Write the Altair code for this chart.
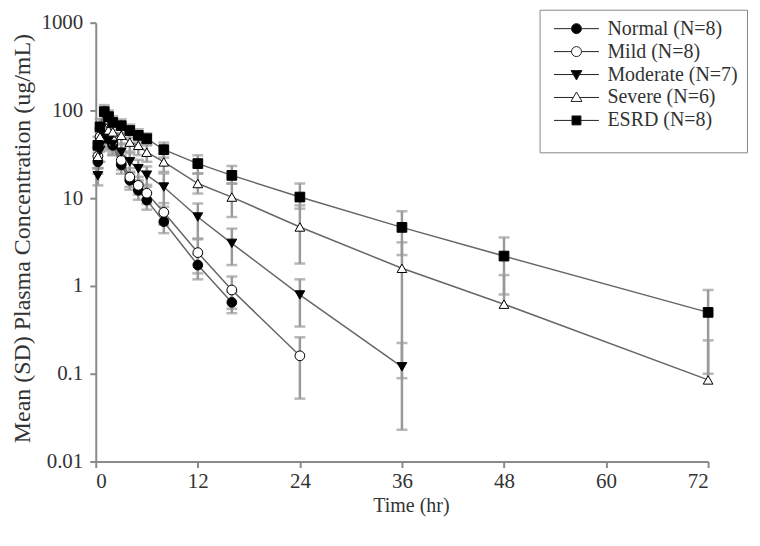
import altair as alt
import pandas as pd

GROUPS = ["Normal (N=8)", "Mild (N=8)", "Moderate (N=7)", "Severe (N=6)", "ESRD (N=8)"]
TIME = [0.25, 0.5, 1, 1.5, 2, 3, 4, 5, 6, 8, 12, 16, 24, 36, 48, 72]

NORMAL_MEAN = [26, 45, 55, 47, 40, 24, 16, 12.3, 9.5, 5.4, 1.73, 0.65, None, None, None, None]
NORMAL_LO = [19, 34, 44, 37, 31, 19, 12.5, 9.6, 7.4, 4.0, 1.19, 0.49, None, None, None, None]
NORMAL_HI = [33, 56, 66, 57, 49, 30, 20, 15, 11.6, 6.8, 2.3, 0.85, None, None, None, None]

MILD_MEAN = [30, 50, 62, 52, 44, 27, 17.4, 14, 11.4, 6.9, 2.4, 0.9, 0.16, None, None, None]
MILD_LO = [22, 38, 48, 40, 33, 21, 13.5, 11, 8.6, 5.0, 1.39, 0.55, 0.052, None, None, None]
MILD_HI = [38, 62, 76, 64, 55, 34, 22, 17.5, 14.2, 8.8, 3.4, 1.28, 0.26, None, None, None]

MODERATE_MEAN = [18, 35, 50, 45, 41, 33.5, 26, 21.7, 18.3, 13.4, 6.1, 3.06, 0.79, 0.12, None, None]
MODERATE_LO = [14, 26, 38, 35, 31, 25, 19.5, 16, 13.5, 8.0, 3.48, 1.73, 0.345, 0.089, None, None]
MODERATE_HI = [22, 44, 62, 55, 51, 42, 32.5, 27.4, 23, 19.1, 8.7, 4.5, 1.19, 0.224, None, None]

SEVERE_MEAN = [30, 50, 64, 60, 57, 52, 43.5, 40, 33.4, 25.9, 14.7, 10.3, 4.7, 1.59, 0.62, 0.085]
SEVERE_LO = [22, 38, 50, 47, 45, 41, 34, 31, 26, 20, 11.3, 6.1, 1.8, 0.023, None, None]
SEVERE_HI = [38, 62, 78, 73, 69, 63, 53, 49, 41, 32, 19.1, 14.7, 8.3, 3.14, 1.33, 0.24]

ESRD_MEAN = [40, 65, 97, 85, 73, 67, 59, 52, 47.6, 35.7, 24.8, 18.2, 10.3, 4.65, 2.19, 0.5]
ESRD_LO = [30, 50, 80, 70, 60, 55, 49, 43, 40, 29, 19.1, 14.7, 7.6, 2.25, 0.8, 0.1]
ESRD_HI = [50, 80, 115, 100, 86, 79, 69, 61, 55, 43, 30.8, 23.3, 14.7, 7.1, 3.57, 0.9]

X_TICKS = [0, 12, 24, 36, 48, 60, 72]
Y_TICKS = [0.01, 0.1, 1, 10, 100, 1000]

MEANS = [NORMAL_MEAN, MILD_MEAN, MODERATE_MEAN, SEVERE_MEAN, ESRD_MEAN]
LOWS = [NORMAL_LO, MILD_LO, MODERATE_LO, SEVERE_LO, ESRD_LO]
HIGHS = [NORMAL_HI, MILD_HI, MODERATE_HI, SEVERE_HI, ESRD_HI]

SHAPES = ["circle", "circle", "triangle-down", "triangle-up", "square"]
FILLS = ["black", "white", "black", "white", "black"]
LEGEND_PATHS = [
    "M-4.5,0H-1M1,0H4.5M-1,0A1,1,0,1,1,1,0A1,1,0,1,1,-1,0Z",
    "M-4.5,0H-1M1,0H4.5M-1,0A1,1,0,1,1,1,0A1,1,0,1,1,-1,0Z",
    "M-4.5,0H-0.64M0.64,0H4.5M-1.1,-0.8L1.1,-0.8L0,1.1Z",
    "M-4.5,0H-0.64M0.64,0H4.5M-1.1,0.8L1.1,0.8L0,-1.1Z",
    "M-4.5,0H-0.9M0.9,0H4.5M-0.9,-0.9H0.9V0.9H-0.9Z",
]

rows, caps = [], []
for g, shp, fl, ms, ls, hs in zip(GROUPS, SHAPES, FILLS, MEANS, LOWS, HIGHS):
    for t, m, lo, hi in zip(TIME, ms, ls, hs):
        if m is None:
            continue
        rows.append({"group": g, "shp": shp, "fl": fl, "time": t, "mean": m,
                     "lo": lo if lo is not None else m, "hi": hi})
        caps.append({"group": g, "time": t, "val": hi})
        if lo is not None:
            caps.append({"group": g, "time": t, "val": lo})
df = pd.DataFrame(rows)
cdf = pd.DataFrame(caps)

FONT = "Liberation Serif"
TXT = "#333333"
AX = "#8a8a8a"

xscale = alt.Scale(domain=[0, 72], nice=False, zero=False)
yscale = alt.Scale(type="log", domain=[0.01, 1000], nice=False)
xaxis = alt.Axis(values=X_TICKS, title="Time (hr)", titleX=316, titleY=44,
                 titleBaseline="middle", labelPadding=3, labelFont=FONT,
                 labelFontSize=21)
yaxis = alt.Axis(values=Y_TICKS, format="~g",
                 title="Mean (SD) Plasma Concentration (ug/mL)",
                 titleX=-73, titleY=216, titleAngle=-90, titleBaseline="middle",
                 titleAlign="center", labelPadding=7, labelFont=FONT,
                 labelFontSize=21)

X = alt.X("time:Q", scale=xscale, axis=xaxis)


def Y(field):
    return alt.Y(field, scale=yscale, axis=yaxis)


lines = alt.Chart(df).mark_line(color="#666666", strokeWidth=1.5).encode(
    x=X, y=Y("mean:Q"), detail="group:N")

bars = alt.Chart(df).mark_rule(color="#9a9a9a", strokeWidth=2.5).encode(
    x=X, y=Y("lo:Q"), y2="hi:Q")

capm = alt.Chart(cdf).mark_tick(orient="horizontal", color="#9a9a9a",
                                thickness=2.5, size=11).encode(
    x=X, y=Y("val:Q"))

points = alt.Chart(df).mark_point(filled=True, size=95, stroke="black",
                                  strokeWidth=1, opacity=1).encode(
    x=X, y=Y("mean:Q"),
    shape=alt.Shape("shp:N", scale=None),
    fill=alt.Fill("fl:N", scale=None),
)

leg = alt.Legend(orient="none", legendX=445, legendY=-13, title=" ",
                 titleOrient="bottom", titleFontSize=12, titlePadding=2,
                 strokeColor="#888888", padding=9, symbolOffset=18,
                 labelOffset=21, rowPadding=3, symbolSize=100,
                 symbolOpacity=1, symbolStrokeColor="#222222",
                 symbolStrokeWidth=1, labelFontSize=20, labelColor=TXT,
                 labelFont=FONT, labelLimit=300)

legend_layer = alt.Chart(df).mark_point(filled=True, size=100, opacity=0).encode(
    x=X, y=Y("mean:Q"),
    shape=alt.Shape("group:N", scale=alt.Scale(domain=GROUPS, range=LEGEND_PATHS), legend=leg),
    fill=alt.Fill("group:N", scale=alt.Scale(domain=GROUPS, range=FILLS), legend=leg),
    stroke=alt.Stroke("group:N", scale=alt.Scale(domain=GROUPS, range=["#222222"] * 5), legend=leg),
)

chart = alt.layer(bars, capm, lines, points, legend_layer).properties(
    width=614, height=440,
    autosize=alt.AutoSizeParams(type="none"),
    padding={"left": 88, "top": 14, "right": 44, "bottom": 76},
).configure(font=FONT).configure_view(stroke=None).configure_axis(
    labelFont=FONT, titleFont=FONT, labelFontSize=21, titleFontSize=24,
    labelColor=TXT, titleColor=TXT, domainColor=AX, domainWidth=2,
    tickColor=AX, tickWidth=2, tickSize=6, grid=False, titleFontWeight="normal",
).configure_axisX(titleFontSize=20)

chart.save("out.html", embed_options={"renderer": "svg", "actions": False})
